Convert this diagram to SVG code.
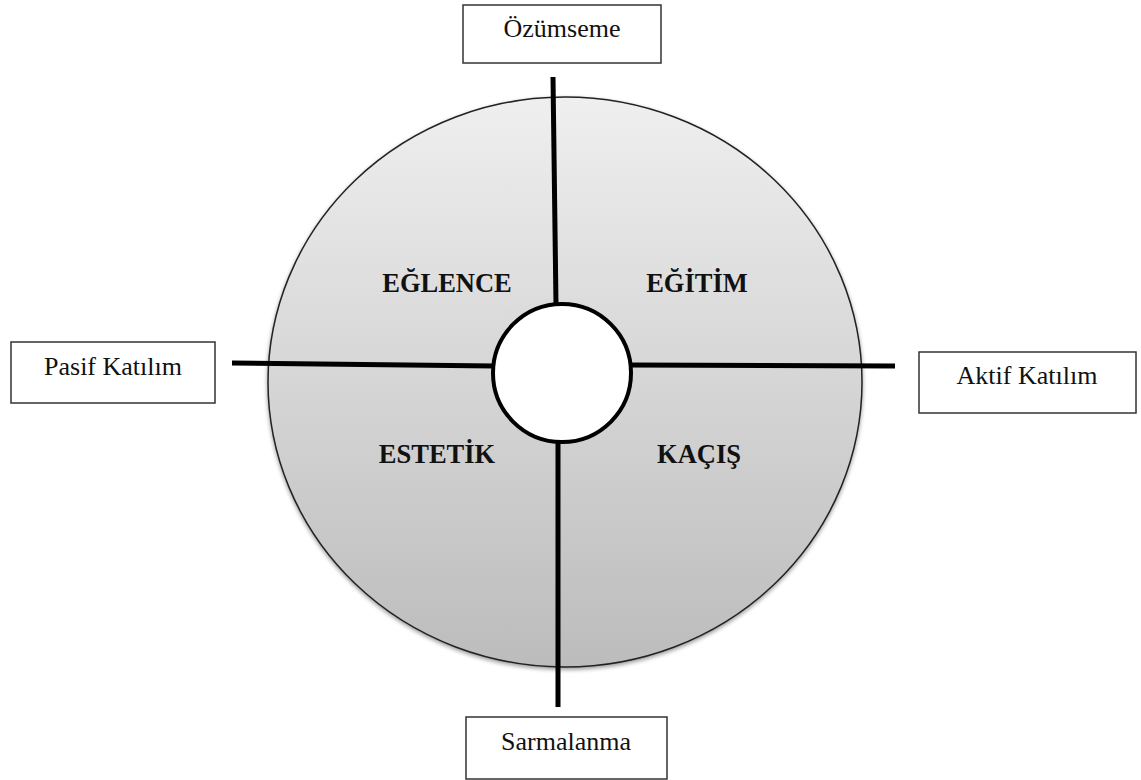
<svg xmlns="http://www.w3.org/2000/svg" width="1141" height="780" viewBox="0 0 1141 780">
<defs>
<linearGradient id="g" x1="0" y1="0" x2="0" y2="1">
<stop offset="0" stop-color="#efefef"/>
<stop offset="1" stop-color="#bcbcbc"/>
</linearGradient>
<filter id="sh" x="-10%" y="-10%" width="120%" height="120%">
<feGaussianBlur in="SourceAlpha" stdDeviation="2"/>
<feOffset dx="0" dy="2" result="b"/>
<feComponentTransfer><feFuncA type="linear" slope="0.4"/></feComponentTransfer>
<feMerge><feMergeNode/><feMergeNode in="SourceGraphic"/></feMerge>
</filter>
</defs>
<style>
.box{fill:#fff;stroke:#333;stroke-width:1.5}
.lbl{font-size:26px;fill:#111;text-anchor:middle}
.q{font-size:26.5px;font-weight:bold;fill:#111;text-anchor:middle}
.ax{stroke:#000;stroke-width:5;fill:none}
</style>
<g id="outer-circle">
<ellipse cx="565" cy="382" rx="297" ry="285" fill="url(#g)" stroke="#222" stroke-width="1.5" filter="url(#sh)"/>
</g>
<g id="connectors">
<line class="ax" x1="553" y1="77" x2="556" y2="305"/>
<line class="ax" x1="558" y1="441" x2="558" y2="707"/>
<line class="ax" x1="232" y1="363" x2="494" y2="366"/>
<line class="ax" x1="630" y1="365" x2="895" y2="366"/>
</g>
<g id="inner-circle">
<circle cx="562" cy="373" r="69" fill="#fff" stroke="#000" stroke-width="4"/>
</g>
<g font-family="Liberation Serif, Times New Roman, serif">
<g id="eglence"><text class="q" x="447" y="292">EĞLENCE</text></g>
<g id="egitim"><text class="q" x="697" y="292">EĞİTİM</text></g>
<g id="estetik"><text class="q" x="437" y="463">ESTETİK</text></g>
<g id="kacis"><text class="q" x="699" y="463">KAÇIŞ</text></g>
<g id="ozumseme">
<rect class="box" x="463" y="5" width="198" height="58"/>
<text class="lbl" x="562" y="37">Özümseme</text>
</g>
<g id="pasif">
<rect class="box" x="11" y="342" width="204" height="61"/>
<text class="lbl" x="113" y="375">Pasif Katılım</text>
</g>
<g id="aktif">
<rect class="box" x="919" y="352" width="217" height="61"/>
<text class="lbl" x="1027" y="384">Aktif Katılım</text>
</g>
<g id="sarmalanma">
<rect class="box" x="466" y="717" width="201" height="62"/>
<text class="lbl" x="566" y="750">Sarmalanma</text>
</g>
</g>
</svg>
